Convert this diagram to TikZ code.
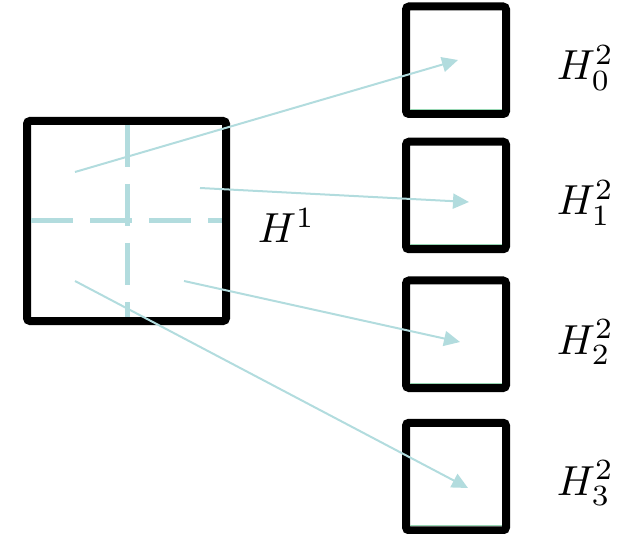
\documentclass[tikz,border=0pt]{standalone}
\usepackage{tikz}
\usetikzlibrary{calc,arrows.meta}
\definecolor{paleteal}{RGB}{178,220,222}
\definecolor{palegreen}{RGB}{150,214,178}

\begin{document}
\begin{tikzpicture}[x=1pt,y=-1pt,
  blk/.style={draw,line width=8pt,rounded corners=3pt,inner sep=0pt,outer sep=0pt},
  flow/.style={paleteal,line width=2pt,-{Triangle[length=16pt,width=15pt]}},
  lbl/.style={anchor=base west,inner sep=0pt,scale=4.2}]
  \useasboundingbox (0,0) rectangle (631,534);

  %% The big block, split into quarters
  \node[blk,minimum width=199pt,minimum height=200pt] (H1) at (126.5,221) {};
  \draw[paleteal,line width=5pt,dash pattern=on 42pt off 17pt]
    ($(H1.north)+(0.5,4)$) -- ($(H1.south)+(0.5,-4)$);
  \draw[paleteal,line width=5pt,dash pattern=on 42pt off 17pt]
    ($(H1.west)+(4,0)$) -- ($(H1.east)+(-4,0)$);
  \node[lbl] (L1) at (257,243) {$H^1$};

  %% The four small blocks on the right
  \foreach \i/\y/\b in {0/60.25/80,1/195.5/215,2/334.25/354,3/476.5/495}
  {
    \node[blk,minimum width=100pt,minimum height=107.5pt] (H2\i) at (456,\y) {};
    \draw[palegreen,line width=1pt]
      ($(H2\i.south west)+(4,-4.5)$) -- ($(H2\i.south east)+(-4,-4.5)$);
    \node[lbl] (L2\i) at (556,\b) {$H^2_\i$};
  }

  %% Each quarter goes to its own block
  \foreach \i/\sx/\sy/\tx/\ty in {0/75/172/458/60,1/200/188/469/202,2/184/281/460/342,3/75/281/468/488}
  {
    \coordinate (q\i) at (\sx,\sy);
    \coordinate (t\i) at (\tx,\ty);
    \draw[flow] (q\i) -- (t\i);
  }
\end{tikzpicture}
\end{document}
